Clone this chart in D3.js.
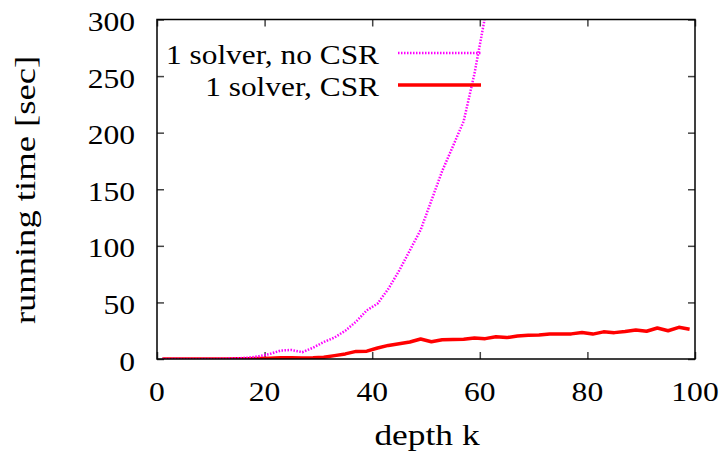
<!DOCTYPE html>
<html>
<head>
<meta charset="utf-8">
<script src="https://cdn.jsdelivr.net/npm/d3@7"></script>
<style>
	body { margin: 0; background: #fff; }
	svg text { font-family: "Liberation Serif", "Times New Roman", serif; fill: #000; }
</style>
</head>
<body>
<svg id="chart" width="727" height="455"></svg>
<script>
// depth k (odd values, 1..99)
const depth = d3.range(1, 100, 2);

// running time [sec]
const noCSR = [0, 0, 0, 0, 0, 0.1, 0.3, 0.6, 1.2, 2.5,
	4.5, 7.5, 8, 6, 10, 15, 19, 25, 33, 43,
	49, 62, 78, 96, 114, 140, 166, 188, 210, 252,
	303];
const withCSR = [0, 0, 0, 0, 0, 0, 0.1, 0.2, 0.3, 0.5,
	0.7, 1, 1, 0.8, 1, 1.5, 3, 4.5, 6.7, 6.9,
	9.7, 12, 13.5, 15, 17.7, 15.3, 17, 17.3, 17.5, 18.6,
	18, 19.7, 18.9, 20.3, 20.9, 21.2, 22, 22, 22.2, 23.5,
	22, 24, 23.3, 24.3, 25.6, 24.5, 27.4, 25, 28, 26.3];

const xTicks = [0, 20, 40, 60, 80, 100];
const yTicks = [0, 50, 100, 150, 200, 250, 300];

const seriesNames = ["1 solver, no CSR", "1 solver, CSR"];
const seriesColors = ["#ff00ff", "#ff0000"];

// the glyphs in the picture are wider than Liberation Serif, so stretch them
function stretched(tx, ty, sx, rot) {
	return "translate(" + tx + "," + ty + ")" + (rot ? " rotate(" + rot + ")" : "") + " scale(" + sx + ",1)";
}

var svg = d3.select("#chart");

var x = d3.scaleLinear().domain([0, 100]).range([157, 695]);
var y = d3.scaleLinear().domain([0, 300]).range([359, 19.5]);

svg.append("clipPath")
	.attr("id", "plotClip")
	.append("rect")
	.attr("x", x(0))
	.attr("y", y(300))
	.attr("width", x(100) - x(0))
	.attr("height", y(0) - y(300));

// axes, ticks inward and mirrored
var tickLen = 7;
var gx = svg.append("g").attr("transform", "translate(0," + y(0) + ")")
	.call(d3.axisBottom(x).tickValues(xTicks).tickSize(-tickLen).tickFormat(""));
var gxTop = svg.append("g").attr("transform", "translate(0," + y(300) + ")")
	.call(d3.axisTop(x).tickValues(xTicks).tickSize(-tickLen).tickFormat(""));
var gy = svg.append("g").attr("transform", "translate(" + x(0) + ",0)")
	.call(d3.axisLeft(y).tickValues(yTicks).tickSize(-tickLen).tickFormat(""));
var gyRight = svg.append("g").attr("transform", "translate(" + x(100) + ",0)")
	.call(d3.axisRight(y).tickValues(yTicks).tickSize(-tickLen).tickFormat(""));

[gx, gxTop, gy, gyRight].forEach(function(g) {
	g.select(".domain").remove();
	g.selectAll(".tick line").attr("stroke", "#444").attr("stroke-width", 1.5);
});

// tick labels
svg.append("g").selectAll("text")
	.data(xTicks)
	.enter()
	.append("text")
	.attr("transform", d => stretched(x(d), 401, 1.17))
	.attr("text-anchor", "middle")
	.style("font-size", "27px")
	.text(d => d);

svg.append("g").selectAll("text")
	.data(yTicks)
	.enter()
	.append("text")
	.attr("transform", d => stretched(135, y(d) + 11.5, 1.17))
	.attr("text-anchor", "end")
	.style("font-size", "27px")
	.text(d => d);

// axis titles
svg.append("text")
	.attr("transform", stretched(427, 445, 1.18))
	.attr("text-anchor", "middle")
	.style("font-size", "30px")
	.text("depth k");

svg.append("text")
	.attr("transform", stretched(35, 190, 1.22, -90))
	.attr("text-anchor", "middle")
	.style("font-size", "30px")
	.text("running time [sec]");

// curves
var line = d3.line()
	.x((d, i) => x(depth[i]))
	.y(d => y(d));

var plot = svg.append("g").attr("clip-path", "url(#plotClip)");

plot.append("path")
	.attr("d", line(withCSR))
	.attr("fill", "none")
	.attr("stroke", seriesColors[1])
	.attr("stroke-width", 3.5)
	.attr("stroke-linejoin", "round");

plot.append("path")
	.attr("d", line(noCSR))
	.attr("fill", "none")
	.attr("stroke", seriesColors[0])
	.attr("stroke-width", 2.5)
	.attr("stroke-dasharray", "1.5,1.5");

// frame
svg.append("rect")
	.attr("x", x(0))
	.attr("y", y(300))
	.attr("width", x(100) - x(0))
	.attr("height", y(0) - y(300))
	.attr("fill", "none")
	.attr("stroke", "#000")
	.attr("stroke-width", 1.5);

// legend
var legendY = [53, 85];
var legend = svg.append("g");
seriesNames.forEach(function(name, i) {
	legend.append("text")
		.attr("transform", stretched(379, legendY[i] + 11, 1.12))
		.attr("text-anchor", "end")
		.style("font-size", "28px")
		.text(name);
	legend.append("line")
		.attr("x1", 398)
		.attr("x2", 481)
		.attr("y1", legendY[i])
		.attr("y2", legendY[i])
		.attr("stroke", seriesColors[i])
		.attr("stroke-width", i === 0 ? 2.5 : 3.5)
		.attr("stroke-dasharray", i === 0 ? "1.5,1.5" : null);
});
</script>
</body>
</html>
